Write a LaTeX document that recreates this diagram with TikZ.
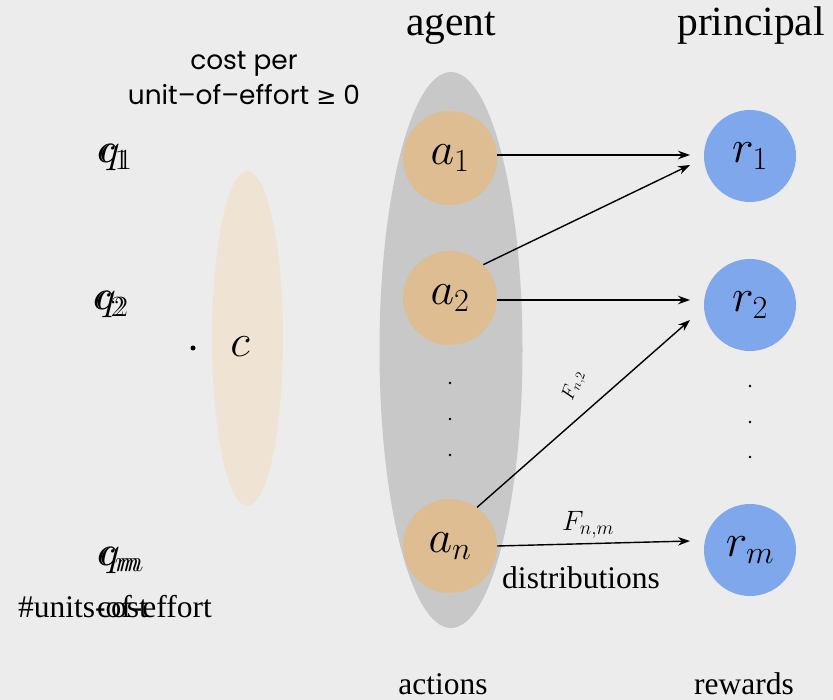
\documentclass[tikz,border=0pt]{standalone}
\usepackage{fix-cm}
\usepackage{fontspec}
\setmainfont{Liberation Serif}
\newfontfamily\gothic{Poppins}
\newfontfamily\symfont{DejaVu Sans}
\usetikzlibrary{arrows.meta,calc,shapes.geometric}
\definecolor{bg}{RGB}{236,236,236}
\definecolor{agentgray}{RGB}{200,200,200}
\definecolor{costbeige}{RGB}{239,228,212}
\definecolor{actiontan}{RGB}{221,189,145}
\definecolor{rewardblue}{RGB}{127,167,236}
\newcommand{\fsz}[1]{\fontsize{#1}{#1}\selectfont}
\begin{document}
\begin{tikzpicture}[x=1pt,y=-1pt,
  action/.style={circle,fill=actiontan,minimum size=94pt,inner sep=0pt,font=\fsz{46}},
  reward/.style={circle,fill=rewardblue,minimum size=92pt,inner sep=0pt,font=\fsz{46}},
  arr/.style={line width=1.4pt,-{Stealth[length=12pt,width=8.5pt]}},
  heading/.style={font=\fsz{41.5},anchor=base,inner sep=0pt},
  caption/.style={font=\fsz{31.5},anchor=base,inner sep=0pt},
  vdot/.style={circle,fill=black,inner sep=0pt,minimum size=2.6pt},
  varlbl/.style={font=\fsz{42},anchor=base west,inner sep=0pt},
  blob/.style={ellipse,inner sep=0pt},
]
\useasboundingbox (0,0) rectangle (833,700);
\fill[bg] (0,0) rectangle (833,700);

% groups
\node[blob,fill=agentgray,minimum width=143pt,minimum height=556pt] (agentset) at (451,350) {};
\node[blob,fill=costbeige,minimum width=71pt,minimum height=335pt] (costset) at (247.5,338.5) {};

% headings
\node[heading] (agent) at (451,36) {agent};
\node[heading] (principal) at (751,36) {principal};
\node[caption] (actions) at (443,694) {actions};
\node[caption] (rewards) at (744,694) {rewards};

% cost per unit of effort
\node[font=\gothic\fsz{26.4},align=center,inner sep=0pt,anchor=base] (costlbl) at (244,105)
  {cost per\\[7pt] unit\textendash of\textendash effort {\symfont\fsz{24}≥} 0};

% cost vector and effort units
\node[font=\fsz{46},inner sep=0pt] (c) at (240,347) {$c$};
\node[circle,fill=black,inner sep=0pt,minimum size=5pt] (cdot) at (193,348) {};
\node[varlbl] (q1) at (100,163) {$q_1$};
\node[varlbl] (c1) at (97,163) {$c_1$};
\node[varlbl] (q2) at (96,310) {$q_2$};
\node[varlbl] (c2) at (93,310) {$c_2$};
\node[varlbl] (qm) at (100,565) {$q_m$};
\node[varlbl] (cm) at (97,565) {$c_m$};
\node[caption,anchor=base west] (units) at (18,617) {\#units-of-effort};
\node[caption,anchor=base west] (cost) at (97,617) {cost};

% actions
\node[action] (a1) at (450,158) {$a_1$};
\node[action] (a2) at (450,298) {$a_2$};
\node[action] (an) at (450,546) {$a_n$};
\node[vdot] (ad1) at (450,383) {};
\node[vdot] (ad2) at (450,419) {};
\node[vdot] (ad3) at (450,455) {};

% rewards
\node[reward] (r1) at (750,156) {$r_1$};
\node[reward] (r2) at (750,305) {$r_2$};
\node[reward] (rm) at (750,550) {$r_m$};
\node[vdot] (rd1) at (750,386) {};
\node[vdot] (rd2) at (750,422) {};
\node[vdot] (rd3) at (750,457) {};

% arrow ends in front of the reward nodes
\coordinate (r1a) at (690,155);
\coordinate (r1b) at (690,165);
\coordinate (r2a) at (690,300);
\coordinate (r2b) at (690,320);
\coordinate (rma) at (690,541);

% outcome distributions
\draw[arr] (a1.east |- r1a) -- (r1a);
\draw[arr] (a2.45) -- (r1b);
\draw[arr] (a2.east |- r2a) -- (r2a);
\draw[arr] (an.55) -- (r2b);
\draw[arr] (an.east) -- (rma);

\node[font=\fsz{19},rotate=70,inner sep=0pt] (fn2) at (574,386) {$F_{n,2}$};
\node[font=\fsz{28},anchor=base,inner sep=0pt] (fnm) at (588,530) {$F_{n,m}$};
\node[caption] (distr) at (581,588) {distributions};
\end{tikzpicture}
\end{document}
